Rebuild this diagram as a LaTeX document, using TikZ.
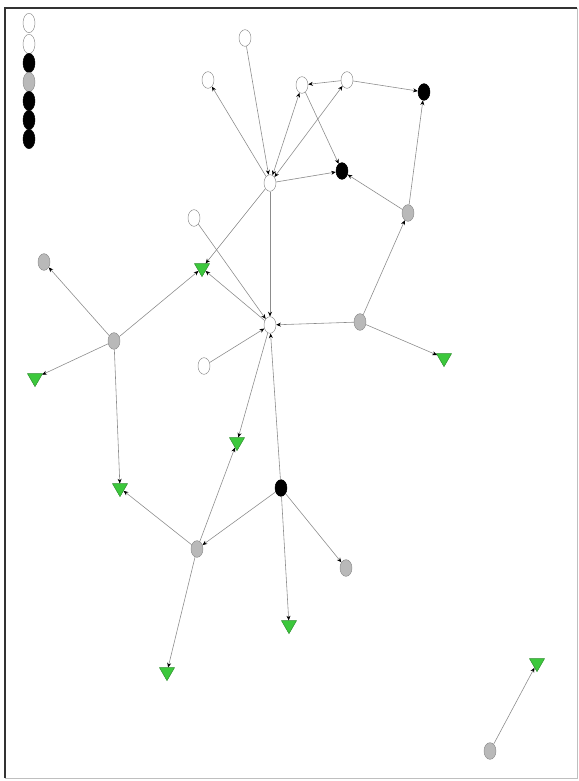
\documentclass[tikz,border=0pt]{standalone}
\usepackage{tikz}
\usepackage{xcolor}
\usetikzlibrary{shapes.geometric, arrows.meta}
\definecolor{cEdge}{RGB}{140,140,140}
\definecolor{cGrey}{RGB}{185,185,185}
\definecolor{cLeaf}{RGB}{60,200,60}
\tikzset{
	vtx/.style   ={ellipse, draw=cEdge, minimum width=0.36cm, minimum height=0.5cm, inner sep=0pt},
	wvtx/.style  ={vtx, fill=white},
	gvtx/.style  ={vtx, fill=cGrey},
	bvtx/.style  ={vtx, draw=black, fill=black},
	leaf/.style  ={regular polygon, regular polygon sides=3, shape border rotate=180, draw=cLeaf!70!black, fill=cLeaf, minimum size=0.52cm, inner sep=0pt},
	edge/.style  ={-{Stealth[length=1.4mm, width=1.2mm, black]}, cEdge, line width=0.5pt},
	biedge/.style={{Stealth[length=1.4mm, width=1.2mm, black]}-{Stealth[length=1.4mm, width=1.2mm, black]}, cEdge, line width=0.5pt},
}

\begin{document}
\begin{tikzpicture}[x=0.03cm, y=-0.03cm]
	\useasboundingbox (0,0) rectangle (578,781);
	% frame
	\draw[black!80, line width=2pt] (5,778) -- (5,8) -- (577,8);
	\draw[black!25, line width=0.6pt] (5,778) -- (577,778) -- (577,8);
	% legend column
	\foreach \i/\y/\s in {1/23/wvtx, 2/44/wvtx, 3/63/bvtx, 4/82/gvtx, 5/101/bvtx, 6/120/bvtx, 7/139/bvtx}
		\node[\s, minimum height=0.58cm] (lg\i) at (29,\y) {};
	% white vertices
	\node[wvtx] (top)   at (245,38)  {};
	\node[wvtx] (nw)    at (208,80)  {};
	\node[wvtx] (mid)   at (302,85)  {};
	\node[wvtx] (ne)    at (347,80)  {};
	\node[wvtx] (hubA)  at (270,183) {};
	\node[wvtx] (west)  at (194,218) {};
	\node[wvtx] (hubB)  at (270,325) {};
	\node[wvtx] (sw)    at (204,366) {};
	% black vertices
	\node[bvtx] (corner) at (424,92)  {};
	\node[bvtx] (inner)  at (342,171) {};
	\node[bvtx] (south)  at (281,488) {};
	% grey vertices
	\node[gvtx] (east)   at (408,213) {};
	\node[gvtx] (far)    at (44,262)  {};
	\node[gvtx] (relay)  at (360,322) {};
	\node[gvtx] (branch) at (114,341) {};
	\node[gvtx] (base)   at (197,549) {};
	\node[gvtx] (tail)   at (346,568) {};
	\node[gvtx] (lone)   at (490,751) {};
	% green leaves
	\node[leaf] (t1) at (202,268) {};
	\node[leaf] (t2) at (35,378)  {};
	\node[leaf] (t3) at (444,358) {};
	\node[leaf] (t4) at (237,442) {};
	\node[leaf] (t5) at (120,488) {};
	\node[leaf] (t6) at (289,625) {};
	\node[leaf] (t7) at (167,672) {};
	\node[leaf] (t8) at (537,663) {};
	% connectors
	\draw[edge] (top) -- (hubA);
	\draw[edge] (hubA) -- (nw);
	\draw[biedge] (hubA) -- (mid);
	\draw[biedge] (hubA) -- (ne);
	\draw[edge] (ne) -- (mid);
	\draw[edge] (ne) -- (corner);
	\draw[edge] (mid) -- (inner);
	\draw[edge] (hubA) -- (inner);
	\draw[edge] (east) -- (inner);
	\draw[edge] (east) -- (corner);
	\draw[edge] (relay) -- (east);
	\draw[edge] (relay) -- (hubB);
	\draw[edge] (relay) -- (t3);
	\draw[edge] (hubA) -- (hubB);
	\draw[edge] (hubA) -- (t1);
	\draw[edge] (hubB) -- (t1);
	\draw[edge] (west) -- (hubB);
	\draw[edge] (sw) -- (hubB);
	\draw[edge] (south) -- (hubB);
	\draw[edge] (hubB) -- (t4);
	\draw[edge] (branch) -- (t1);
	\draw[edge] (branch) -- (far);
	\draw[edge] (branch) -- (t2);
	\draw[edge] (branch) -- (t5);
	\draw[edge] (base) -- (t5);
	\draw[edge] (base) -- (t4);
	\draw[edge] (base) -- (t7);
	\draw[edge] (south) -- (base);
	\draw[edge] (south) -- (t6);
	\draw[edge] (south) -- (tail);
	\draw[edge] (lone) -- (t8);
\end{tikzpicture}
\end{document}
